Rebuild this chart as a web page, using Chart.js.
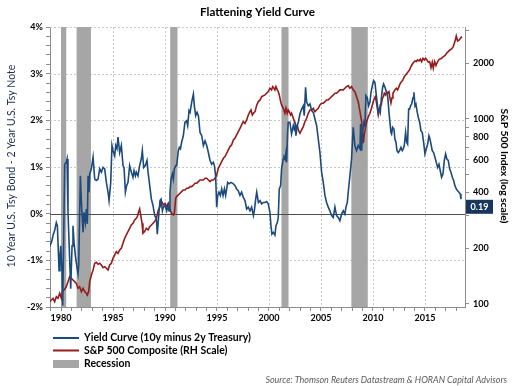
<!DOCTYPE html>
<html><head><meta charset="utf-8">
<script src="https://cdn.jsdelivr.net/npm/chart.js@4/dist/chart.umd.min.js"></script>
<style>html,body{margin:0;padding:0;background:#fff}#wrap{width:515px;height:386px;position:relative}</style>
</head><body><div id="wrap"><canvas id="c" width="515" height="386"></canvas></div>
<script>
// ---------------- DATA ----------------
const chartTitle = 'Flattening Yield Curve';
const leftAxisTitle = '10 Year U.S. Tsy Bond - 2 Year U.S. Tsy Note';
const rightAxisTitle = 'S&P 500 Index (log scale)';
const seriesNames = ['Yield Curve (10y minus 2y Treasury)', 'S&P 500 Composite (RH Scale)', 'Recession'];
const sourceText = 'Source: Thomson Reuters Datastream & HORAN Capital Advisors';
const lastValueLabel = '0.19';
const lastValue = 0.19;

const xTickLabels = [1980, 1985, 1990, 1995, 2000, 2005, 2010, 2015];
const leftTickLabels = [-2, -1, 0, 1, 2, 3, 4];
const rightTickLabels = [100, 200, 400, 600, 800, 1000, 2000];
const rightTickMarks = [100, 200, 300, 400, 500, 600, 700, 800, 900, 1000, 2000, 3000];

const recessionStart = [1980.0, 1981.5, 1990.5, 2001.2, 2007.92];
const recessionEnd   = [1980.5, 1982.88, 1991.2, 2001.88, 2009.5];

const yieldYears = [1978.91,1979.10,1979.25,1979.40,1979.55,1979.65,1979.74,1979.81,1979.90,1979.97,1980.10,1980.16,1980.25,1980.35,1980.50,1980.58,1980.67,1980.83,1980.93,1981.06,1981.15,1981.25,1981.38,1981.50,1981.63,1981.70,1981.86,1981.96,1982.12,1982.21,1982.34,1982.44,1982.53,1982.60,1982.69,1982.76,1982.92,1983.08,1983.24,1983.40,1983.56,1983.72,1983.88,1984.04,1984.20,1984.36,1984.52,1984.62,1984.78,1984.90,1985.00,1985.16,1985.26,1985.38,1985.48,1985.64,1985.80,1985.96,1986.06,1986.19,1986.31,1986.44,1986.60,1986.76,1986.92,1987.02,1987.15,1987.24,1987.40,1987.56,1987.72,1987.82,1987.95,1988.11,1988.27,1988.37,1988.53,1988.69,1988.85,1989.01,1989.17,1989.26,1989.42,1989.52,1989.62,1989.75,1989.84,1990.00,1990.16,1990.26,1990.39,1990.48,1990.58,1990.71,1990.80,1990.90,1991.03,1991.12,1991.28,1991.38,1991.48,1991.60,1991.76,1991.92,1992.08,1992.18,1992.31,1992.41,1992.57,1992.66,1992.73,1992.82,1992.95,1993.08,1993.21,1993.37,1993.53,1993.69,1993.85,1994.01,1994.17,1994.33,1994.49,1994.65,1994.75,1994.87,1994.97,1995.07,1995.19,1995.32,1995.45,1995.58,1995.71,1995.83,1996.03,1996.16,1996.35,1996.57,1996.73,1996.89,1997.05,1997.21,1997.37,1997.53,1997.69,1997.85,1998.01,1998.17,1998.33,1998.50,1998.59,1998.72,1998.82,1998.98,1999.14,1999.30,1999.46,1999.61,1999.77,1999.93,2000.09,2000.19,2000.28,2000.41,2000.57,2000.67,2000.80,2000.89,2000.99,2001.12,2001.21,2001.37,2001.44,2001.53,2001.63,2001.69,2001.79,2001.85,2002.01,2002.17,2002.34,2002.43,2002.53,2002.59,2002.72,2002.82,2002.98,2003.14,2003.30,2003.39,2003.52,2003.62,2003.78,2003.94,2004.10,2004.26,2004.42,2004.58,2004.74,2004.90,2005.06,2005.22,2005.38,2005.54,2005.70,2005.86,2006.02,2006.18,2006.34,2006.50,2006.66,2006.82,2006.98,2007.14,2007.30,2007.40,2007.53,2007.62,2007.78,2007.94,2008.10,2008.26,2008.42,2008.58,2008.75,2008.81,2008.91,2009.00,2009.13,2009.23,2009.32,2009.45,2009.58,2009.71,2009.81,2009.94,2010.06,2010.19,2010.29,2010.42,2010.51,2010.61,2010.70,2010.83,2010.93,2011.02,2011.15,2011.31,2011.41,2011.54,2011.63,2011.73,2011.79,2011.89,2012.02,2012.11,2012.21,2012.31,2012.44,2012.56,2012.69,2012.82,2012.92,2013.01,2013.14,2013.24,2013.33,2013.43,2013.52,2013.62,2013.72,2013.85,2013.94,2014.04,2014.13,2014.26,2014.36,2014.49,2014.61,2014.74,2014.87,2015.00,2015.13,2015.26,2015.38,2015.48,2015.58,2015.70,2015.83,2015.96,2016.09,2016.22,2016.35,2016.47,2016.60,2016.73,2016.86,2016.99,2017.11,2017.24,2017.37,2017.50,2017.63,2017.76,2017.88,2018.01,2018.14,2018.27,2018.40,2018.46];
const yieldSpread = [-0.70,-0.60,-0.45,-0.35,-0.19,-0.26,-0.80,-1.22,-0.90,-0.69,-1.26,-1.97,-0.60,1.06,1.10,1.17,0.03,-0.97,-1.61,-0.69,-0.26,-0.61,-0.90,-1.10,-1.29,-1.11,0.81,0.24,-0.40,0.03,-0.19,0.10,-0.22,0.81,0.46,0.85,0.96,1.21,0.74,0.71,0.74,0.96,0.89,0.99,0.96,0.67,0.46,0.28,0.67,1.46,1.35,1.24,1.46,1.39,1.64,1.31,1.46,1.03,0.99,0.46,0.60,0.67,1.03,0.89,0.78,0.92,0.81,0.89,0.81,1.03,1.17,1.35,0.99,1.03,1.14,0.89,0.60,0.31,0.17,-0.04,-0.11,-0.44,0.03,0.28,0.31,0.06,0.14,0.17,0.06,0.17,0.06,0.46,0.74,0.85,0.74,0.96,1.03,1.03,1.35,1.42,1.39,1.53,1.67,1.96,1.99,1.89,2.21,2.17,2.39,2.49,2.56,2.31,2.10,2.17,2.10,1.74,1.67,1.46,1.56,1.46,1.31,1.14,1.06,1.10,1.03,0.81,0.14,0.39,0.46,0.39,0.53,0.39,0.53,0.39,0.67,0.64,0.67,0.64,0.60,0.53,0.49,0.39,0.46,0.35,0.28,0.10,0.14,0.06,0.14,-0.04,0.06,0.31,0.46,0.24,0.28,0.21,0.24,0.24,0.26,0.21,0.03,-0.26,-0.44,-0.40,-0.46,-0.26,-0.19,-0.08,0.53,0.60,0.96,1.17,1.21,1.17,1.31,1.10,1.74,1.96,1.96,1.71,1.89,1.81,1.89,1.67,1.89,1.96,2.14,2.24,2.31,2.10,2.71,2.39,2.31,2.35,2.21,2.17,2.03,1.89,1.60,1.31,0.89,0.67,0.39,0.24,0.14,0.06,-0.04,-0.08,0.14,-0.04,-0.08,-0.15,-0.01,0.06,-0.01,0.14,0.24,0.46,0.81,1.17,1.85,1.46,1.35,1.46,1.39,1.92,1.35,1.74,1.96,1.89,2.53,2.49,2.31,2.39,2.60,2.74,2.85,2.81,2.60,2.35,2.17,2.24,2.17,2.53,2.71,2.78,2.71,2.60,2.53,2.17,1.96,1.74,1.71,1.85,1.81,1.60,1.53,1.35,1.31,1.35,1.42,1.35,1.39,1.46,1.74,1.53,1.49,2.24,2.24,2.31,2.35,2.49,2.60,2.31,2.35,2.17,2.06,1.96,1.78,1.74,1.53,1.28,1.39,1.49,1.67,1.60,1.49,1.35,1.31,1.21,1.10,0.99,1.06,0.92,0.78,0.85,1.14,1.28,1.17,1.14,0.96,0.89,0.78,0.71,0.60,0.53,0.49,0.46,0.42,0.31];

const spYears = [1978.91,1979.07,1979.23,1979.39,1979.55,1979.71,1979.87,1980.03,1980.13,1980.29,1980.42,1980.51,1980.67,1980.83,1980.99,1981.15,1981.31,1981.47,1981.63,1981.79,1981.96,1982.12,1982.28,1982.44,1982.53,1982.66,1982.76,1982.92,1983.08,1983.24,1983.40,1983.56,1983.72,1983.88,1984.04,1984.20,1984.36,1984.52,1984.68,1984.84,1985.00,1985.16,1985.32,1985.48,1985.64,1985.80,1985.96,1986.12,1986.28,1986.44,1986.60,1986.76,1986.92,1987.08,1987.24,1987.34,1987.47,1987.56,1987.66,1987.79,1987.88,1988.04,1988.20,1988.37,1988.53,1988.69,1988.85,1989.01,1989.17,1989.36,1989.52,1989.68,1989.84,1990.00,1990.16,1990.32,1990.48,1990.64,1990.80,1990.90,1991.03,1991.12,1991.28,1991.44,1991.60,1991.76,1991.92,1992.08,1992.25,1992.41,1992.57,1992.73,1992.89,1993.05,1993.21,1993.37,1993.53,1993.69,1993.85,1994.01,1994.17,1994.33,1994.49,1994.65,1994.81,1994.97,1995.13,1995.29,1995.45,1995.61,1995.77,1995.93,1996.09,1996.25,1996.41,1996.57,1996.73,1996.89,1997.05,1997.21,1997.37,1997.53,1997.69,1997.85,1998.01,1998.17,1998.27,1998.40,1998.50,1998.66,1998.82,1998.98,1999.14,1999.30,1999.46,1999.61,1999.77,1999.93,2000.09,2000.25,2000.35,2000.48,2000.57,2000.67,2000.80,2000.89,2000.99,2001.12,2001.21,2001.37,2001.53,2001.63,2001.76,2001.85,2001.95,2002.08,2002.17,2002.34,2002.50,2002.59,2002.72,2002.82,2002.98,2003.14,2003.30,2003.46,2003.62,2003.78,2003.94,2004.10,2004.26,2004.42,2004.58,2004.74,2004.90,2005.06,2005.22,2005.38,2005.54,2005.70,2005.86,2006.02,2006.18,2006.34,2006.50,2006.66,2006.82,2006.98,2007.14,2007.30,2007.46,2007.62,2007.78,2007.94,2008.10,2008.26,2008.42,2008.58,2008.75,2008.91,2009.07,2009.16,2009.29,2009.39,2009.55,2009.71,2009.81,2009.94,2010.03,2010.13,2010.22,2010.32,2010.42,2010.51,2010.61,2010.70,2010.80,2010.90,2011.00,2011.09,2011.22,2011.31,2011.41,2011.54,2011.63,2011.73,2011.83,2011.92,2012.11,2012.24,2012.37,2012.50,2012.63,2012.76,2012.88,2013.01,2013.14,2013.27,2013.40,2013.52,2013.65,2013.78,2013.91,2014.04,2014.17,2014.29,2014.42,2014.55,2014.68,2014.81,2014.94,2015.06,2015.19,2015.32,2015.45,2015.58,2015.70,2015.80,2015.93,2016.06,2016.19,2016.31,2016.44,2016.60,2016.76,2016.92,2017.08,2017.24,2017.40,2017.56,2017.72,2017.88,2018.01,2018.14,2018.30,2018.46,2018.56];
const spLevel = [103.0,105.1,107.3,103.0,109.5,107.3,114.2,107.3,116.6,119.0,121.5,124.1,132.0,140.5,137.6,134.8,132.0,129.3,121.5,124.1,116.6,121.5,116.6,114.2,111.8,116.6,132.0,143.5,152.7,165.9,168.0,163.8,165.9,162.5,157.1,159.1,155.9,152.7,162.5,165.9,176.6,184.0,191.8,187.9,195.9,200.0,212.8,226.5,236.1,246.0,256.5,267.3,272.9,284.5,290.4,296.6,315.6,326.2,302.8,272.9,241.0,246.0,256.5,251.2,261.8,267.3,272.9,278.6,290.4,322.2,335.9,357.5,342.9,350.1,335.9,350.1,322.2,309.2,302.8,309.2,372.6,380.4,388.4,396.5,404.8,413.3,413.3,421.9,421.9,430.8,430.8,439.8,449.1,449.1,458.5,468.1,468.1,468.1,477.9,477.9,468.1,458.5,468.1,468.1,477.9,498.2,541.2,564.2,588.1,613.0,626.0,652.6,680.3,708.9,723.7,770.0,786.3,819.5,854.1,890.3,928.2,967.3,947.5,987.6,1051,1095,1118,1051,1073,1095,1190,1241,1267,1320,1335,1348,1376,1405,1465,1435,1495,1465,1435,1495,1435,1405,1348,1241,1190,1142,1073,1142,1073,1118,1095,1051,1073,1008,947.5,890.3,928.2,872,836.6,872,909,967.3,1008,1073,1118,1118,1142,1095,1118,1142,1190,1215,1215,1241,1267,1267,1293,1320,1348,1376,1376,1405,1435,1435,1435,1465,1495,1514,1465,1495,1435,1405,1320,1241,1095,967,738.8,819.5,900,967,1029,1073,1120,1190,1241,1293,1320,1241,1142,1051,1118,1190,1190,1293,1320,1376,1348,1405,1376,1405,1300,1220,1300,1376,1435,1465,1435,1495,1559,1592,1625,1693,1729,1766,1803,1841,1919,1975,2025,2059,2042,2084,2059,2102,2042,2128,2084,2128,2084,2025,2042,1894,2025,1879,2042,1943,2025,2084,2110,2128,2173,2199,2265,2312,2360,2390,2460,2618,2809,2640,2673,2752,2786];

// ---------------- STYLE ----------------
const FAMILY = 'Lato';
const BLUE = '#1b4a7c', RED = '#961b1b', GREY = '#a6a6a6';
function fitSize(text, weight, style, target) {
  const c = document.createElement('canvas').getContext('2d');
  c.font = `${style} ${weight} 100px ${FAMILY}`;
  return 100 * target / c.measureText(text).width;
}
const tickSize = fitSize('2000', 'bold', 'normal', 21);
const titleSize = fitSize(chartTitle, 'bold', 'normal', 115);
const leftTitleSize = fitSize(leftAxisTitle, 'normal', 'normal', 203);
const rightTitleSize = fitSize(rightAxisTitle, 'bold', 'normal', 115);
const legendSize = fitSize(seriesNames[0], 'bold', 'normal', 167);
const sourceSize = fitSize(sourceText, 'normal', 'italic', 242);
const tickFont = { family: FAMILY, weight: 'bold', size: tickSize };

const X_MIN = 1978.94, X_MAX = 2018.85;
const AXIS_COL = '#8c8c8c';

const decor = {
  id: 'decor',
  beforeDatasetsDraw(chart) {
    const { ctx, chartArea: ca } = chart;
    const xs = chart.scales.x, ys = chart.scales.y;
    ctx.save();
    ctx.beginPath(); ctx.rect(ca.left, ca.top, ca.right - ca.left, ca.bottom - ca.top); ctx.clip();
    // dotted gridlines
    ctx.strokeStyle = '#c8c8c8'; ctx.lineWidth = 1; ctx.setLineDash([2, 2]);
    xTickLabels.forEach(v => {
      const x = Math.round(xs.getPixelForValue(v)) + 0.5;
      ctx.beginPath(); ctx.moveTo(x, ca.top); ctx.lineTo(x, ca.bottom); ctx.stroke();
    });
    leftTickLabels.filter(v => v !== 0 && v !== -2).forEach(v => {
      const y = Math.round(ys.getPixelForValue(v)) + 0.5;
      ctx.beginPath(); ctx.moveTo(ca.left, y); ctx.lineTo(ca.right, y); ctx.stroke();
    });
    ctx.setLineDash([]);
    // recession bars
    ctx.fillStyle = GREY;
    recessionStart.forEach((s, i) => {
      const x0 = xs.getPixelForValue(s), x1 = xs.getPixelForValue(recessionEnd[i]);
      ctx.fillRect(x0, ca.top, x1 - x0, ca.bottom - ca.top);
    });
    // zero line
    const y0 = Math.round(ys.getPixelForValue(0)) + 0.5;
    ctx.strokeStyle = '#4d4d4d'; ctx.lineWidth = 1;
    ctx.beginPath(); ctx.moveTo(ca.left, y0); ctx.lineTo(ca.right, y0); ctx.stroke();
    ctx.restore();
  },
  afterDraw(chart) {
    const { ctx, chartArea: ca } = chart;
    const ys = chart.scales.y;
    ctx.save();
    ctx.textBaseline = 'middle';
    // title
    ctx.fillStyle = '#000'; ctx.textAlign = 'center';
    ctx.font = `bold ${titleSize}px ${FAMILY}`;
    ctx.fillText(chartTitle, 257.5, 12);
    // left axis title
    ctx.save(); ctx.translate(12, 166); ctx.rotate(-Math.PI / 2);
    ctx.fillStyle = '#1d2f55'; ctx.font = `normal ${leftTitleSize}px ${FAMILY}`;
    ctx.fillText(leftAxisTitle, 0, 0); ctx.restore();
    // right axis title
    ctx.save(); ctx.translate(504, 166); ctx.rotate(Math.PI / 2);
    ctx.fillStyle = '#000'; ctx.font = `bold ${rightTitleSize}px ${FAMILY}`;
    ctx.fillText(rightAxisTitle, 0, 0); ctx.restore();
    // last value box
    const yc = ys.getPixelForValue(lastValue) + 2;
    ctx.fillStyle = '#17375e';
    ctx.fillRect(ca.right + 1, yc - 7, 27, 14);
    ctx.fillStyle = '#fff'; ctx.font = `bold ${tickSize}px ${FAMILY}`;
    ctx.fillText(lastValueLabel, ca.right + 14.5, yc + 0.5);
    // legend
    ctx.textAlign = 'left';
    ctx.lineWidth = 2;
    ctx.strokeStyle = BLUE; ctx.beginPath(); ctx.moveTo(53, 338); ctx.lineTo(79, 338); ctx.stroke();
    ctx.strokeStyle = RED; ctx.beginPath(); ctx.moveTo(53, 350.5); ctx.lineTo(79, 350.5); ctx.stroke();
    ctx.fillStyle = GREY; ctx.fillRect(53, 360, 26, 8);
    ctx.fillStyle = '#000'; ctx.font = `bold ${legendSize}px ${FAMILY}`;
    ctx.fillText(seriesNames[0], 84, 338);
    ctx.fillText(seriesNames[1], 84, 351);
    ctx.fillText(seriesNames[2], 84, 364);
    // source
    ctx.textAlign = 'right'; ctx.fillStyle = '#595959';
    ctx.font = `italic normal ${sourceSize}px ${FAMILY}`;
    ctx.fillText(sourceText, 507, 380);
    ctx.restore();
  }
};

const yearTicks = [];
for (let y = Math.ceil(X_MIN); y <= Math.floor(X_MAX); y++) yearTicks.push(y);
const leftMinor = [];
for (let i = -10; i <= 20; i++) leftMinor.push(i / 5);

new Chart(document.getElementById('c'), {
  type: 'line',
  data: {
    datasets: [
      { label: seriesNames[0], data: yieldYears.map((x, i) => ({ x, y: yieldSpread[i] })), yAxisID: 'y',
        borderColor: BLUE, borderWidth: 1.6, pointRadius: 0, tension: 0 },
      { label: seriesNames[1], data: spYears.map((x, i) => ({ x, y: spLevel[i] })), yAxisID: 'y2',
        borderColor: RED, borderWidth: 1.6, pointRadius: 0, tension: 0 }
    ]
  },
  options: {
    responsive: false, animation: false, devicePixelRatio: 1,
    layout: { padding: { top: 27, bottom: 57, left: 0, right: 0 } },
    plugins: { legend: { display: false }, title: { display: false }, tooltip: { enabled: false } },
    scales: {
      x: {
        type: 'linear', position: 'bottom', min: X_MIN, max: X_MAX,
        afterBuildTicks: s => { s.ticks = yearTicks.map(v => ({ value: v })); },
        afterFit: s => { s.height = 22; },
        ticks: { autoSkip: false, maxRotation: 0, minRotation: 0, padding: 2, color: '#000', font: tickFont,
          callback: v => xTickLabels.includes(v) ? String(v) : '' },
        grid: { drawOnChartArea: false, drawTicks: true, tickLength: 4, color: AXIS_COL },
        border: { color: AXIS_COL }
      },
      y: {
        type: 'linear', position: 'left', min: -2, max: 4,
        afterBuildTicks: s => { s.ticks = leftMinor.map(v => ({ value: v })); },
        afterFit: s => { s.width = 50; },
        ticks: { autoSkip: false, padding: 3, color: '#000', font: tickFont,
          callback: v => { const r = Math.round(v); return (Math.abs(v - r) < 1e-6 && leftTickLabels.includes(r)) ? r + '%' : ''; } },
        grid: { drawOnChartArea: false, drawTicks: true, tickLength: 4, color: AXIS_COL },
        border: { color: AXIS_COL }
      },
      y2: {
        type: 'logarithmic', position: 'right', min: 96.3, max: 3140,
        afterBuildTicks: s => { s.ticks = rightTickMarks.map(v => ({ value: v })); },
        afterFit: s => { s.width = 50; },
        ticks: { autoSkip: false, padding: 4, color: '#000', font: tickFont,
          callback: v => rightTickLabels.includes(v) ? String(v) : '' },
        grid: { drawOnChartArea: false, drawTicks: true, tickLength: 4, color: AXIS_COL },
        border: { color: AXIS_COL }
      }
    }
  },
  plugins: [decor]
});
</script></body></html>
